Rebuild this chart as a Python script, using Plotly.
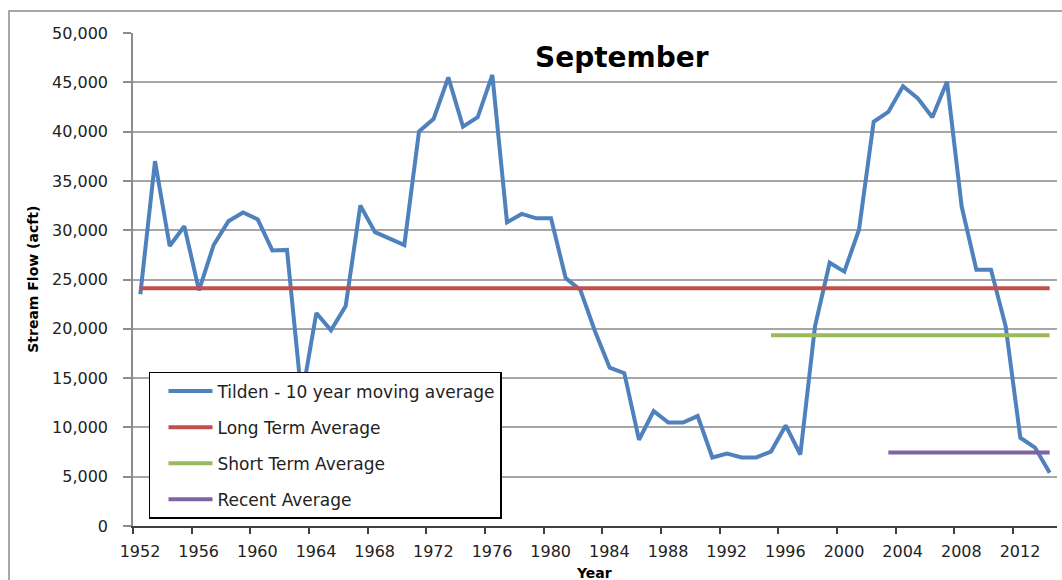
import plotly.graph_objects as go

# Tilden station, September stream flow: 10-year moving average (acre-feet)
years = list(range(1952, 2015))
tilden_ma = [
    23500, 37000, 28400, 30400, 23900, 28500, 30900, 31800, 31100, 27950,
    28000, 13000, 21600, 19850, 22300, 32500, 29800, 29200, 28500, 40000,
    41300, 45500, 40500, 41450, 45750, 30800, 31650, 31200, 31200, 25150,
    23950, 19750, 16050, 15500, 8750, 11650, 10500, 10500, 11150, 6950,
    7350, 6950, 6950, 7550, 10200, 7250, 20250, 26700, 25800, 30050,
    41000, 42000, 44600, 43400, 41450, 45050, 32400, 26000, 26000, 20250,
    8950, 7950, 5400,
]

# Reference averages and the first year each one covers
long_term_avg, long_term_start = 24100, 1952
short_term_avg, short_term_start = 19350, 1995
recent_avg, recent_start = 7450, 2003

tick_years = list(range(1952, 2013, 4))
y_ticks = list(range(0, 50001, 5000))


def span(start):
    return [y for y in years if y >= start]


series = [
    ("Tilden - 10 year moving average", years, tilden_ma, "#4F81BD"),
    ("Long Term Average", span(long_term_start),
     [long_term_avg] * len(span(long_term_start)), "#C0504D"),
    ("Short Term Average", span(short_term_start),
     [short_term_avg] * len(span(short_term_start)), "#9BBB59"),
    ("Recent Average", span(recent_start),
     [recent_avg] * len(span(recent_start)), "#8064A2"),
]

fig = go.Figure()
for i, (name, xs, ys, color) in enumerate(series):
    fig.add_trace(go.Scatter(
        x=xs, y=ys, name=name, mode="lines", legendgroup=str(i),
        line=dict(color=color, width=4),
    ))

font = "DejaVu Sans"

fig.update_layout(
    width=1062, height=580,
    margin=dict(l=133, r=5, t=33, b=54),
    paper_bgcolor="white", plot_bgcolor="white",
    font=dict(family=font, color="#222222"),
    showlegend=True,
    legend=dict(
        x=0.0173, y=0.3124, xanchor="left", yanchor="top",
        bgcolor="white", bordercolor="#000000", borderwidth=1.5,
        font=dict(family=font, size=17, color="#222222"),
        tracegroupgap=11, itemwidth=44, indentation=13,
        entrywidth=300, entrywidthmode="pixels",
    ),
    xaxis=dict(
        range=[1951.5, 2014.5],
        tickmode="array",
        tickvals=[y - 0.5 for y in tick_years],
        ticktext=[str(y) for y in tick_years],
        ticklabelshift=7, ticklabelstandoff=4,
        ticks="outside", ticklen=6, tickwidth=1.5, tickcolor="#404040",
        showgrid=False, zeroline=False,
        showline=True, linecolor="#404040", linewidth=1.5,
        tickfont=dict(family=font, size=16, color="#222222"),
    ),
    yaxis=dict(
        range=[0, 50000],
        tickmode="array", tickvals=y_ticks,
        tickformat=",d",
        ticks="outside", ticklen=8, tickwidth=1.5, tickcolor="#8c8c8c",
        ticklabelstandoff=12,
        showgrid=True, gridcolor="#a6a6a6", gridwidth=1.5,
        zeroline=False,
        showline=True, linecolor="#8c8c8c", linewidth=1.5,
        tickfont=dict(family=font, size=16, color="#222222"),
    ),
    annotations=[
        dict(text="<b>September</b>", xref="paper", yref="paper",
             x=0.5287, y=0.951, xanchor="center", yanchor="middle",
             showarrow=False, font=dict(family=font, size=28, color="#000000")),
        dict(text="<b>Stream Flow (acft)</b>", xref="paper", yref="paper",
             x=-0.109, y=0.5, xanchor="center", yanchor="middle", textangle=-90,
             showarrow=False, font=dict(family=font, size=14, color="#000000")),
        dict(text="<b>Year</b>", xref="paper", yref="paper",
             x=0.499, y=-0.0953, xanchor="center", yanchor="middle",
             showarrow=False, font=dict(family=font, size=14, color="#000000")),
    ],
    shapes=[
        dict(type="rect", xref="paper", yref="paper",
             x0=-0.1342, y0=-0.2, x1=1.1, y1=1.0446,
             line=dict(color="#8c8c8c", width=1.5), fillcolor="rgba(0,0,0,0)",
             layer="below"),
    ],
)

fig.write_html("out.html")
